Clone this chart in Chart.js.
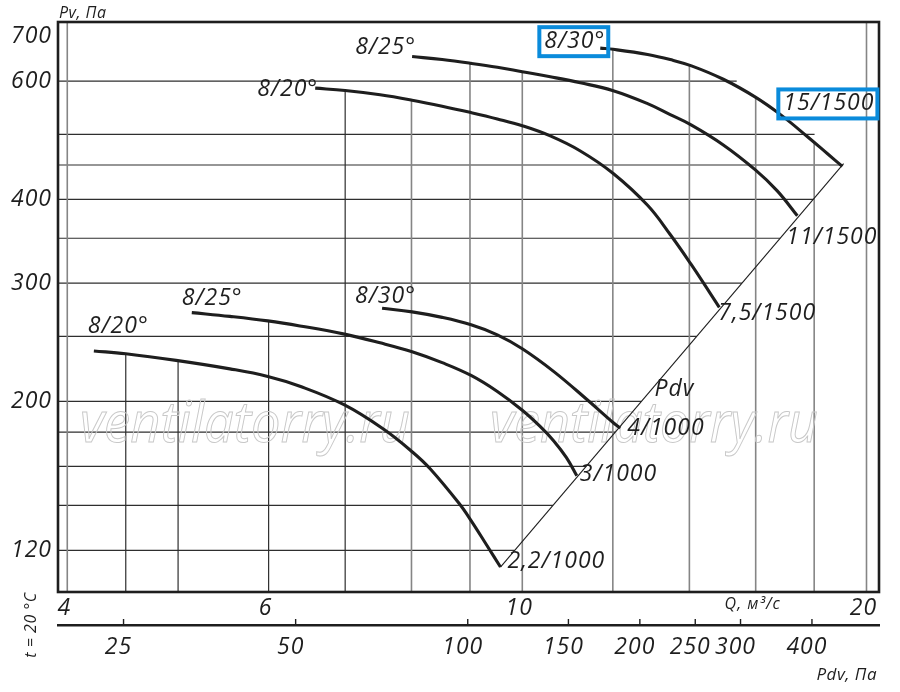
<!DOCTYPE html>
<html lang="ru">
<head>
<meta charset="utf-8">
<title>Pv - Q</title>
<script src="https://cdn.jsdelivr.net/npm/chart.js@4.4.0/dist/chart.umd.min.js"></script>
<style>
  html, body { margin: 0; padding: 0; background: #fff; }
  #wrap { width: 900px; height: 692px; }
</style>
</head>
<body>
<div id="wrap"><canvas id="chart1" width="900" height="692"></canvas></div>
<script>
// axis ticks
var qTicks = [4, 4.5, 5, 6, 7, 8, 9, 10, 12, 14, 16, 18, 20];
var qLabels = [4, 6, 10, 20];
var pvTicks = [120, 140, 160, 180, 200, 250, 300, 350, 400, 450, 500, 600, 700];
var pvLabels = [120, 200, 300, 400, 600, 700];
var pdvTicks = [25, 50, 100, 150, 200, 250, 300, 400];

// curves, Q in m3/s and Pv in Pa
var q22 = [4.22, 4.50, 4.98, 5.55, 5.99, 6.39, 6.99, 7.56, 8.02, 8.31, 8.80, 9.02, 9.31, 9.57];
var pv22 = [237.8, 235.5, 230.2, 223.6, 217.9, 210.7, 197.6, 181.9, 168.0, 158.6, 141.1, 132.9, 122.1, 113.3];
var q30 = [5.14, 5.55, 5.99, 6.39, 6.99, 7.51, 8.01, 8.51, 9.02, 9.51, 10.0, 10.37, 10.65, 10.93, 11.16];
var pv30 = [271.2, 267.7, 263.6, 259.1, 251.9, 244.5, 237.1, 228.4, 218.6, 206.9, 194.0, 183.4, 174.8, 164.9, 155.0];
var q40 = [7.54, 8.01, 8.51, 9.02, 9.51, 10.0, 10.65, 11.39, 12.02, 12.18];
var pv40 = [275.3, 271.9, 266.8, 260.1, 251.3, 239.6, 221.7, 201.3, 185.7, 182.6];
var q75 = [6.59, 7.00, 7.51, 8.01, 8.51, 9.02, 9.51, 10.0, 10.58, 11.24, 12.01, 12.87, 13.47, 14.06, 14.60, 14.87];
var pv75 = [585.8, 581.0, 572.6, 562.1, 550.7, 538.7, 527.1, 514.9, 497.2, 472.2, 437.1, 391.9, 354.5, 319.4, 289.7, 276.1];
var q110 = [8.01, 8.51, 9.02, 9.51, 10.0, 10.58, 11.24, 12.01, 12.87, 13.47, 14.06, 14.99, 15.99, 16.71, 17.40];
var pv110 = [652.9, 646.1, 637.8, 629.3, 619.7, 609.1, 596.7, 580.6, 555.4, 534.9, 516.0, 482.1, 442.5, 411.8, 378.1];
var q150 = [11.70, 12.01, 12.87, 13.47, 14.06, 14.99, 15.99, 16.82, 17.76, 18.49, 19.05];
var pv150 = [671.9, 669.2, 657.5, 646.1, 632.3, 603.9, 568.0, 534.9, 495.9, 467.7, 447.8];
// Pdv line through the curve ends
var pdvQ = [9.57, 19.10];
var pdvPv = [113.3, 452];

var angleText = ['8/20°', '8/25°', '8/30°', '8/20°', '8/25°', '8/30°'];
var motorText = ['2,2/1000', '3/1000', '4/1000', '7,5/1500', '11/1500', '15/1500'];

// label placement relative to curve start / end (px)
var startStyle = [
  { dx: -6, dy: -24, align: 'left' },
  { dx: -10, dy: -14, align: 'left' },
  { dx: -27, dy: -12, align: 'left' },
  { dx: 3, dy: 1, align: 'right' },
  { dx: 4, dy: -9, align: 'right' },
  { dx: 5, dy: -7, align: 'right', box: true }
];
var endStyle = [
  { dx: 7, dy: -6 }, { dx: 3, dy: -1 }, { dx: 7, dy: 1 },
  { dx: -1, dy: 6 }, { dx: -11, dy: 22 }, { dx: -59, dy: -63, box: true }
];
var darkQLines = [4.5, 5, 6, 7];
var FONT = '"Open Sans", "Noto Sans", sans-serif';
var INK = '#1e1e1e';

function pts(q, pv) {
  return q.map(function (v, i) { return { x: v, y: pv[i] }; });
}
function curve(q, pv) {
  return {
    data: pts(q, pv), borderColor: INK, borderWidth: 3.1, pointRadius: 0,
    fill: false, tension: 0.4, borderCapStyle: 'butt'
  };
}
// linear interpolation on the plotted points (pixels)
function yAtX(p, x) {
  for (var i = 0; i < p.length - 1; i++) {
    if (x >= p[i].x && x <= p[i + 1].x) {
      return p[i].y + (x - p[i].x) * (p[i + 1].y - p[i].y) / (p[i + 1].x - p[i].x);
    }
  }
  return null;
}
function xAtY(p, y) {
  for (var i = 0; i < p.length - 1; i++) {
    var a = p[i].y, b = p[i + 1].y;
    if ((y - a) * (y - b) <= 0 && a !== b) {
      return p[i].x + (y - a) * (p[i + 1].x - p[i].x) / (b - a);
    }
  }
  return null;
}
function txt(ctx, s, x, y, align, size) {
  ctx.font = 'italic ' + size + 'px ' + FONT;
  ctx.textAlign = align;
  ctx.textBaseline = 'middle';
  ctx.fillStyle = INK;
  ctx.fillText(s, x, y);
  return ctx.measureText(s).width;
}
function box(ctx, left, cy, w) {
  ctx.save();
  ctx.strokeStyle = '#0a8bdb';
  ctx.lineWidth = 4;
  ctx.strokeRect(left - 5, cy - 14, w + 8, 29);
  ctx.restore();
}

var extras = {
  id: 'extras',
  beforeDraw: function (chart) {
    // the drawing font is a bit wider than Open Sans
    chart.ctx.letterSpacing = '1px';
  },
  beforeDatasetsDraw: function (chart) {
    var ctx = chart.ctx, area = chart.chartArea;
    var xs = chart.scales.x, ys = chart.scales.y;
    var curves = [0, 1, 2, 3, 4, 5].map(function (i) { return chart.getDatasetMeta(i).data; });
    var diag = chart.getDatasetMeta(6).data;
    ctx.save();
    // horizontal grid: stops at the Pdv line or the top curve
    pvTicks.forEach(function (v) {
      if (v >= 700) return;
      var y = ys.getPixelForValue(v);
      var xEnd = diag[0].x + (y - diag[0].y) * (diag[1].x - diag[0].x) / (diag[1].y - diag[0].y);
      var xf = xAtY(curves[5], y);
      if (xf !== null) xEnd = Math.min(xEnd, xf + 10);
      xEnd = Math.min(xEnd, area.right);
      ctx.beginPath();
      ctx.strokeStyle = '#2e2e2e';
      ctx.lineWidth = 1.2;
      ctx.moveTo(area.left, y);
      ctx.lineTo(xEnd, y);
      ctx.stroke();
    });
    // vertical grid: from the highest curve down
    qTicks.forEach(function (v) {
      var x = xs.getPixelForValue(v);
      var top = null;
      curves.forEach(function (c) {
        var yy = yAtX(c, x);
        if (yy !== null && (top === null || yy < top)) top = yy;
      });
      if (top === null) top = area.top;
      ctx.beginPath();
      var dark = darkQLines.indexOf(v) >= 0;
      ctx.strokeStyle = dark ? '#2e2e2e' : '#858585';
      ctx.lineWidth = dark ? 1.2 : 1.6;
      ctx.moveTo(x, top);
      ctx.lineTo(x, area.bottom);
      ctx.stroke();
    });
    // watermark
    ctx.letterSpacing = '0px';
    ctx.font = 'italic 56px ' + FONT;
    ctx.textAlign = 'left';
    ctx.textBaseline = 'alphabetic';
    ctx.strokeStyle = '#c8c8c8';
    ctx.lineWidth = 1;
    ctx.strokeText('ventilatorry.ru', 80, 442, 330);
    ctx.strokeText('ventilatorry.ru', 490, 442, 328);
    ctx.restore();
  },
  afterDraw: function (chart) {
    var ctx = chart.ctx, area = chart.chartArea;
    var ys = chart.scales.y, xs = chart.scales.x, x2 = chart.scales.x2;
    ctx.save();
    ctx.letterSpacing = '1px';
    // frame
    ctx.strokeStyle = INK;
    ctx.lineWidth = 2.6;
    ctx.strokeRect(area.left, area.top, area.right - area.left, area.bottom - area.top);
    // Pdv ticks above its axis line
    ctx.lineWidth = 1.4;
    pdvTicks.forEach(function (v) {
      var x = x2.getPixelForValue(v);
      ctx.beginPath();
      ctx.moveTo(x, x2.top - 6);
      ctx.lineTo(x, x2.top);
      ctx.stroke();
    });
    // curve labels
    for (var i = 0; i < 6; i++) {
      var d = chart.getDatasetMeta(i).data;
      var s = d[0], e = d[d.length - 1];
      var st = startStyle[i], en = endStyle[i];
      var sx = s.x + st.dx, sy = s.y + st.dy;
      var w = txt(ctx, angleText[i], sx, sy, st.align, 23);
      if (st.box) box(ctx, st.align === 'right' ? sx - w : sx, sy, w);
      var ex = e.x + en.dx, ey = e.y + en.dy;
      w = txt(ctx, motorText[i], ex, ey, 'left', 23);
      if (en.box) box(ctx, ex, ey, w);
    }
    txt(ctx, 'Pdv', xs.getPixelForValue(13.05), ys.getPixelForValue(208.7), 'left', 23);
    // axis titles
    ctx.letterSpacing = '0.5px';
    txt(ctx, 'Pv, Па', 59, 13, 'left', 16);
    txt(ctx, 'Pdv, Па', 877, 675, 'right', 17);
    ctx.save();
    ctx.translate(31, 625);
    ctx.rotate(-Math.PI / 2);
    txt(ctx, 't = 20 °C', 0, 0, 'center', 16);
    ctx.restore();
    ctx.restore();
  }
};

var tickFont = { family: FONT, size: 23, style: 'italic' };

new Chart(document.getElementById('chart1'), {
  type: 'line',
  data: {
    datasets: [
      curve(q22, pv22), curve(q30, pv30), curve(q40, pv40),
      curve(q75, pv75), curve(q110, pv110), curve(q150, pv150),
      { data: pts(pdvQ, pdvPv), borderColor: INK, borderWidth: 1.1, pointRadius: 0, fill: false }
    ]
  },
  options: {
    responsive: false,
    animation: false,
    layout: { padding: { top: 22, right: 21, left: 0, bottom: 0 } },
    plugins: { legend: { display: false }, tooltip: { enabled: false } },
    scales: {
      x: {
        type: 'logarithmic', min: 3.926, max: 20.51, position: 'bottom', weight: 0,
        grid: { display: false, drawTicks: false }, border: { display: false },
        afterBuildTicks: function (s) { s.ticks = qTicks.map(function (v) { return { value: v }; }); },
        afterFit: function (s) { s.height = 33; },
        ticks: {
          autoSkip: false, maxRotation: 0, minRotation: 0, padding: 3, labelOffset: -3, color: INK,
          font: function (c) {
            return c.tick && c.tick.value === 16 ? { family: FONT, size: 16, style: 'italic' } : tickFont;
          },
          callback: function (v) {
            if (v === 16) return 'Q, м³/с';
            return qLabels.indexOf(v) >= 0 ? String(v) : '';
          }
        }
      },
      x2: {
        type: 'logarithmic', min: 19.2, max: 524, position: 'bottom', weight: 1,
        grid: { display: false, drawTicks: false }, border: { display: true, width: 2.6, color: INK },
        afterBuildTicks: function (s) { s.ticks = pdvTicks.map(function (v) { return { value: v }; }); },
        afterFit: function (s) { s.height = 67; },
        ticks: {
          autoSkip: false, maxRotation: 0, minRotation: 0, padding: 9, labelOffset: -5, color: INK,
          font: tickFont,
          callback: function (v) { return String(v); }
        }
      },
      y: {
        type: 'logarithmic', min: 104, max: 735,
        grid: { display: false, drawTicks: false }, border: { display: false },
        afterBuildTicks: function (s) { s.ticks = pvTicks.map(function (v) { return { value: v }; }); },
        afterFit: function (s) { s.width = 58; },
        ticks: {
          autoSkip: false, padding: 6, color: INK, font: tickFont,
          callback: function (v) { return pvLabels.indexOf(v) >= 0 ? String(v) : ''; }
        }
      }
    }
  },
  plugins: [extras]
});
</script>
</body>
</html>
